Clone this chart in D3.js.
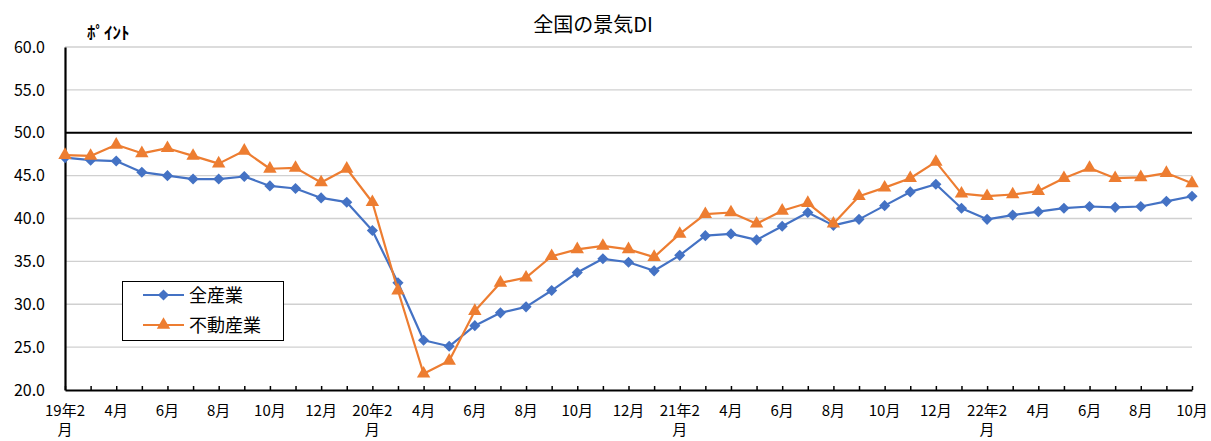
<!DOCTYPE html>
<html>
<head>
<meta charset="utf-8">
<script src="https://cdn.jsdelivr.net/npm/d3@7"></script>
<style>
  html, body { margin: 0; padding: 0; background: #fff; }
  svg { display: block; font-family: "Noto Sans CJK JP", "Noto Sans", sans-serif; }
</style>
</head>
<body>
<svg id="chart" width="1211" height="441"></svg>
<script>
// Months from 2019-02 to 2022-10
const months = [
  "19年2月","19年3月","19年4月","19年5月","19年6月","19年7月","19年8月","19年9月","19年10月","19年11月","19年12月",
  "20年1月","20年2月","20年3月","20年4月","20年5月","20年6月","20年7月","20年8月","20年9月","20年10月","20年11月","20年12月",
  "21年1月","21年2月","21年3月","21年4月","21年5月","21年6月","21年7月","21年8月","21年9月","21年10月","21年11月","21年12月",
  "22年1月","22年2月","22年3月","22年4月","22年5月","22年6月","22年7月","22年8月","22年9月","22年10月"
];

// Axis labels shown every second month (first line / second line)
const tickLabels = [
  ["19年2","月"],["",""],["4月",""],["",""],["6月",""],["",""],["8月",""],["",""],["10月",""],["",""],["12月",""],["",""],
  ["20年2","月"],["",""],["4月",""],["",""],["6月",""],["",""],["8月",""],["",""],["10月",""],["",""],["12月",""],["",""],
  ["21年2","月"],["",""],["4月",""],["",""],["6月",""],["",""],["8月",""],["",""],["10月",""],["",""],["12月",""],["",""],
  ["22年2","月"],["",""],["4月",""],["",""],["6月",""],["",""],["8月",""],["",""],["10月",""]
];

// 全産業
const allIndustries = [
  47.1, 46.8, 46.7, 45.4, 45.0, 44.6, 44.6, 44.9, 43.8, 43.5, 42.4,
  41.9, 38.6, 32.5, 25.8, 25.1, 27.5, 29.0, 29.7, 31.6, 33.7, 35.3,
  34.9, 33.9, 35.7, 38.0, 38.2, 37.5, 39.1, 40.7, 39.2, 39.9, 41.5,
  43.1, 44.0, 41.2, 39.9, 40.4, 40.8, 41.2, 41.4, 41.3, 41.4, 42.0, 42.6
];

// 不動産業
const realEstate = [
  47.4, 47.3, 48.6, 47.6, 48.2, 47.3, 46.4, 47.9, 45.8, 45.9, 44.2,
  45.8, 41.9, 31.6, 21.9, 23.4, 29.2, 32.5, 33.1, 35.6, 36.4, 36.8,
  36.4, 35.5, 38.2, 40.5, 40.7, 39.4, 40.9, 41.8, 39.4, 42.6, 43.6,
  44.7, 46.6, 42.9, 42.6, 42.8, 43.2, 44.7, 45.9, 44.7, 44.8, 45.3, 44.1
];

const yTicks = [20, 25, 30, 35, 40, 45, 50, 55, 60];

// Diamond drawn as a square turned 45 degrees; triangle pointing up
const seriesList = [
  { name: "全産業", values: allIndustries, color: "#4472C4", marker: d3.symbolSquare, size: 62, rotate: 45 },
  { name: "不動産業", values: realEstate, color: "#ED7D31", marker: d3.symbolTriangle, size: 78, rotate: 0 }
];

const svg = d3.select("#chart");
const plotLeft = 65, plotRight = 1192, plotTop = 47, plotBottom = 390;

const x = d3.scalePoint().domain(months).range([plotLeft, plotRight]);
const y = d3.scaleLinear().domain([20, 60]).range([plotBottom, plotTop]);

// Title
svg.append("text")
  .attr("x", 593).attr("y", 32)
  .attr("text-anchor", "middle")
  .attr("font-size", 20)
  .attr("fill", "#000")
  .text("全国の景気DI");

// Unit label
svg.append("text")
  .attr("x", 87).attr("y", 39)
  .attr("font-size", 17)
  .attr("font-weight", "bold")
  .attr("fill", "#000")
  .text("ﾎﾟｲﾝﾄ");

// Horizontal gridlines
svg.append("g")
  .selectAll("line")
  .data(yTicks.filter(t => t !== 20 && t !== 50))
  .join("line")
  .attr("x1", plotLeft).attr("x2", plotRight)
  .attr("y1", d => y(d)).attr("y2", d => y(d))
  .attr("stroke", "#d0d0d0")
  .attr("stroke-width", 1.3);

// Reference line at 50
svg.append("line")
  .attr("x1", plotLeft).attr("x2", plotRight)
  .attr("y1", y(50)).attr("y2", y(50))
  .attr("stroke", "#000")
  .attr("stroke-width", 2);

// Y axis
const yAxis = svg.append("g")
  .attr("transform", `translate(${plotLeft},0)`)
  .call(d3.axisLeft(y).tickValues(yTicks).tickFormat(d3.format(".1f")).tickSize(0).tickPadding(20));
yAxis.select(".domain").attr("stroke", "#000").attr("stroke-width", 2.2);
yAxis.selectAll("text").attr("font-size", 16).attr("fill", "#000")
  .attr("font-family", "\"Noto Sans CJK JP\", sans-serif");

// X axis (ticks pointing inward)
const xAxis = svg.append("g")
  .attr("transform", `translate(0,${plotBottom})`)
  .call(d3.axisBottom(x).tickSizeInner(-4).tickSizeOuter(0).tickFormat(""));
xAxis.select(".domain").attr("stroke", "#000").attr("stroke-width", 2.2);
xAxis.selectAll(".tick line").attr("stroke", "#000").attr("stroke-width", 1.5);

// X labels (two lines)
const xl = svg.append("g").attr("font-size", 15).attr("fill", "#000");
months.forEach((m, i) => {
  const [l1, l2] = tickLabels[i];
  if (l1) xl.append("text").attr("x", x(m)).attr("y", 416).attr("text-anchor", "middle").text(l1);
  if (l2) xl.append("text").attr("x", x(m)).attr("y", 435).attr("text-anchor", "middle").text(l2);
});

// Series lines and markers
const line = d3.line().x((d, i) => x(months[i])).y(d => y(d));
seriesList.forEach(s => {
  svg.append("path")
    .datum(s.values)
    .attr("d", line)
    .attr("fill", "none")
    .attr("stroke", s.color)
    .attr("stroke-width", 2.2)
    .attr("stroke-linejoin", "round");
  svg.append("g")
    .selectAll("path")
    .data(s.values)
    .join("path")
    .attr("transform", (d, i) => `translate(${x(months[i])},${y(d)}) rotate(${s.rotate})`)
    .attr("d", d3.symbol().type(s.marker).size(s.size))
    .attr("fill", s.color);
});

// Legend
const lg = svg.append("g");
lg.append("rect")
  .attr("x", 122.5).attr("y", 281.5).attr("width", 161).attr("height", 59)
  .attr("fill", "#fff").attr("stroke", "#000").attr("stroke-width", 1);
seriesList.forEach((s, i) => {
  const ly = 295 + i * 30;
  lg.append("line").attr("x1", 143).attr("x2", 184).attr("y1", ly).attr("y2", ly)
    .attr("stroke", s.color).attr("stroke-width", 2.2);
  lg.append("path").attr("transform", `translate(163.5,${ly}) rotate(${s.rotate})`)
    .attr("d", d3.symbol().type(s.marker).size(s.size)).attr("fill", s.color);
  lg.append("text").attr("x", 189).attr("y", ly + 7).attr("font-size", 18).attr("fill", "#000").text(s.name);
});
</script>
</body>
</html>
